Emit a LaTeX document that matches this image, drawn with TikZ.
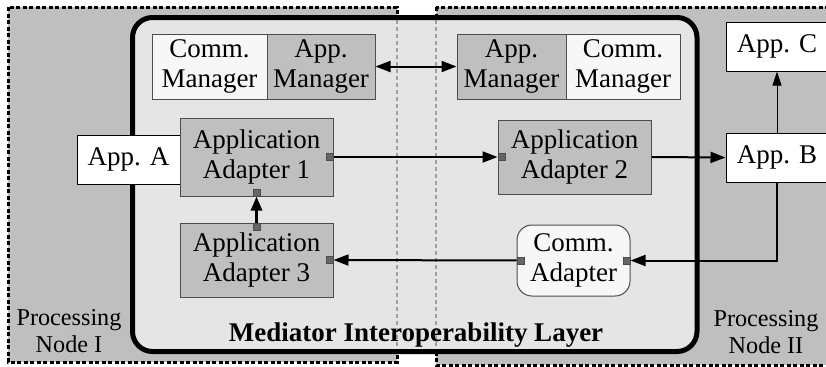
\documentclass[tikz,border=0pt]{standalone}
\usepackage{fontspec}
\setmainfont{Liberation Serif}
\usetikzlibrary{arrows.meta}
\definecolor{nodegray}{gray}{0.75}
\definecolor{layergray}{gray}{0.9}
\definecolor{palegray}{gray}{0.97}
\definecolor{portgray}{gray}{0.4}
\definecolor{rimgray}{gray}{0.3}
\newcommand{\boxfont}{\fontsize{27bp}{30bp}\selectfont}
\newcommand{\sidefont}{\fontsize{24.2bp}{27bp}\selectfont}
\tikzset{
  box/.style={draw=rimgray,line width=1bp,inner sep=0pt,align=center,font=\boxfont},
  adapter/.style={box,fill=nodegray,minimum width=153bp},
  appbox/.style={box,draw=black,fill=white,minimum width=102bp,minimum height=49bp},
  port/.style={draw=rimgray,fill=portgray,line width=0.8bp,inner sep=0pt,minimum size=7bp},
  nodeline/.style={draw=black,fill=nodegray,line width=3bp,dash pattern=on 4bp off 2.5bp},
  splitline/.style={draw=gray!75,line width=1.5bp,dash pattern=on 4bp off 3bp},
  flow/.style={line width=2bp,-{Triangle[length=15bp,width=11bp]}},
  caption/.style={align=center,font=\sidefont,inner sep=0pt}
}
\begin{document}
\begin{tikzpicture}[x=1bp,y=-1bp]
\useasboundingbox (0,0) rectangle (826,366);
% processing nodes
\draw[nodeline] (8,7) rectangle (397,362);
\draw[nodeline] (436,7) rectangle (840,365);
% mediator layer
\fill[layergray,rounded corners=20bp] (132.5,17.5) rectangle (697,351.5);
\foreach \xpos in {397,436} {
  \draw[splitline] (\xpos,20) -- (\xpos,349);
}
\draw[line width=5bp,rounded corners=20bp] (132.5,17.5) rectangle (697,351.5);

% managers
\node[box,fill=palegray,minimum width=115bp,minimum height=65bp] (cml) at (209.5,66.5) {Comm.\\Manager};
\node[box,fill=nodegray,minimum width=108bp,minimum height=65bp] (aml) at (321,66.5) {App.\\Manager};
\node[box,fill=nodegray,minimum width=109bp,minimum height=65bp] (amr) at (511.5,66.5) {App.\\Manager};
\node[box,fill=palegray,minimum width=114bp,minimum height=65bp] (cmr) at (623,66.5) {Comm.\\Manager};

% applications and adapters
\node[appbox,minimum width=103bp] (appa) at (128.5,159.5) {App. A};
\node[adapter,minimum height=78bp] (ad1) at (256.5,157) {Application\\Adapter 1};
\node[adapter,minimum height=74bp] (ad2) at (574.5,157) {Application\\Adapter 2};
\node[adapter,minimum height=74bp] (ad3) at (256.5,260) {Application\\Adapter 3};
\node[box,fill=palegray,rounded corners=15bp,minimum width=113bp,minimum height=71bp] (ca) at (573.5,260.5) {Comm.\\Adapter};
\node[appbox] (appb) at (777,157.5) {App. B};
\node[appbox] (appc) at (777,46.5) {App. C};

% ports
\node[port,anchor=east] (ad1e) at (ad1.east) {};
\node[port,anchor=south] (ad1s) at (ad1.south) {};
\node[port,anchor=west] (ad2w) at (ad2.west) {};
\node[port,anchor=east] (ad3e) at (ad3.east) {};
\node[port,anchor=north] (ad3n) at (ad3.north) {};
\node[port,anchor=west] (caw) at (ca.west) {};
\node[port,anchor=east] (cae) at (ca.east) {};

% connectors
\draw[line width=2bp,{Triangle[length=15bp,width=11bp]}-{Triangle[length=15bp,width=11bp]}] (aml.east) -- (amr.west);
\draw[flow] (ad1e) -- (ad2w);
\draw[flow] (ad2.east) -- (appb.west);
\draw[line width=1bp,-{Triangle[length=14bp,width=9bp]}] (appb.north) -- (appc.south);
\draw[flow] (appb.south) |- (cae);
\draw[flow] (caw) -- (ad3e);
\draw[line width=3bp,-{Triangle[length=14bp,width=11bp]}] (ad3n) -- (ad1s);

% labels
\node[caption] (pn1) at (69,331) {Processing\\Node I};
\node[caption] (pn2) at (766,332) {Processing\\Node II};
\node[caption,font=\boxfont\bfseries,anchor=base] (layer) at (416,341.5) {Mediator Interoperability Layer};
\end{tikzpicture}
\end{document}
